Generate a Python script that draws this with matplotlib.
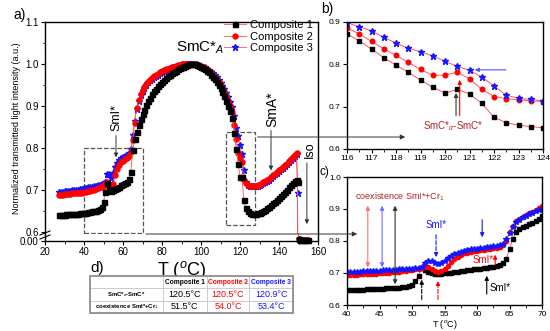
import matplotlib
matplotlib.use("Agg")
import numpy as np
import matplotlib.pyplot as plt
from matplotlib.ticker import MultipleLocator
from matplotlib.patches import Rectangle, FancyArrowPatch
from matplotlib.lines import Line2D

plt.rcParams['font.family'] = ['Liberation Sans', 'DejaVu Sans']
plt.rcParams['mathtext.fontset'] = 'custom'
plt.rcParams['mathtext.rm'] = 'Liberation Sans'
plt.rcParams['mathtext.it'] = 'Liberation Sans:italic'
plt.rcParams['mathtext.bf'] = 'Liberation Sans:bold'

# ---------------- data: panel a (full heating run) ----------------
t_a = np.arange(27, 150)  # 27 ... 149 degC
c1_a = [0.640, 0.640, 0.641, 0.641, 0.642, 0.644, 0.644, 0.643, 0.643, 0.644,
        0.644, 0.645, 0.645, 0.646, 0.646, 0.647, 0.648, 0.649, 0.650, 0.651,
        0.653, 0.655, 0.660, 0.672, 0.695, 0.716, 0.702, 0.697, 0.699, 0.702,
        0.705, 0.708, 0.711, 0.714, 0.716, 0.719, 0.726, 0.742, 0.795, 0.822,
        0.838, 0.855, 0.868, 0.880, 0.891, 0.902, 0.911, 0.920, 0.928, 0.935,
        0.941, 0.948, 0.953, 0.958, 0.963, 0.967, 0.971, 0.975, 0.978, 0.981,
        0.984, 0.987, 0.990, 0.992, 0.994, 0.996, 0.998, 0.999, 1.000, 1.000,
        0.999, 0.998, 0.996, 0.994, 0.991, 0.988, 0.984, 0.980, 0.975, 0.970,
        0.964, 0.957, 0.950, 0.942, 0.933, 0.924, 0.913, 0.901, 0.888, 0.872,
        0.836, 0.798, 0.763, 0.732, 0.730, 0.675, 0.656, 0.650, 0.646, 0.644,
        0.644, 0.644, 0.645, 0.646, 0.648, 0.650, 0.653, 0.656, 0.660, 0.664,
        0.668, 0.672, 0.676, 0.681, 0.686, 0.691, 0.696, 0.701, 0.706, 0.711,
        0.716, 0.721, 0.725]
c2_a = [0.688, 0.689, 0.689, 0.690, 0.690, 0.691, 0.691, 0.692, 0.692, 0.693,
        0.693, 0.694, 0.694, 0.695, 0.696, 0.697, 0.698, 0.699, 0.700, 0.702,
        0.704, 0.706, 0.708, 0.710, 0.714, 0.719, 0.712, 0.703, 0.715, 0.735,
        0.750, 0.760, 0.766, 0.770, 0.773, 0.776, 0.780, 0.790, 0.820, 0.860,
        0.895, 0.915, 0.928, 0.938, 0.946, 0.953, 0.958, 0.963, 0.967, 0.971,
        0.974, 0.977, 0.980, 0.983, 0.985, 0.987, 0.989, 0.991, 0.993, 0.994,
        0.996, 0.997, 0.998, 0.999, 0.999, 1.000, 1.000, 1.000, 1.000, 1.000,
        0.999, 0.998, 0.997, 0.995, 0.993, 0.990, 0.987, 0.983, 0.979, 0.974,
        0.969, 0.963, 0.957, 0.950, 0.942, 0.934, 0.924, 0.913, 0.900, 0.886,
        0.854, 0.821, 0.788, 0.775, 0.766, 0.724, 0.716, 0.712, 0.710, 0.709,
        0.709, 0.710, 0.711, 0.713, 0.715, 0.718, 0.721, 0.724, 0.727, 0.731,
        0.735, 0.739, 0.743, 0.747, 0.751, 0.755, 0.759, 0.763, 0.768, 0.773,
        0.778, 0.783, 0.788]
c3_a = [0.695, 0.696, 0.696, 0.697, 0.697, 0.698, 0.698, 0.699, 0.700, 0.700,
        0.701, 0.702, 0.703, 0.704, 0.705, 0.706, 0.707, 0.708, 0.709, 0.710,
        0.711, 0.713, 0.714, 0.716, 0.720, 0.738, 0.737, 0.728, 0.740, 0.755,
        0.765, 0.771, 0.775, 0.778, 0.781, 0.784, 0.787, 0.797, 0.830, 0.865,
        0.893, 0.912, 0.926, 0.936, 0.944, 0.951, 0.956, 0.961, 0.965, 0.969,
        0.972, 0.975, 0.978, 0.981, 0.984, 0.986, 0.988, 0.990, 0.992, 0.993,
        0.995, 0.996, 0.997, 0.998, 0.999, 1.000, 1.000, 1.000, 1.000, 1.000,
        1.000, 0.999, 0.998, 0.996, 0.994, 0.992, 0.989, 0.986, 0.982, 0.978,
        0.973, 0.968, 0.962, 0.955, 0.948, 0.940, 0.931, 0.921, 0.910, 0.898,
        0.876, 0.848, 0.829, 0.806, 0.785, 0.748, 0.720, 0.713, 0.710, 0.709,
        0.709, 0.709, 0.710, 0.712, 0.714, 0.716, 0.719, 0.722, 0.725, 0.729,
        0.733, 0.737, 0.741, 0.745, 0.749, 0.753, 0.757, 0.761, 0.766, 0.771,
        0.776, 0.781, 0.786]
# isotropic tail (beyond the clearing point)
t_iso1 = [149.5, 150, 151, 152, 153, 154, 155]
c1_iso = [0.720, 0.004, 0.003, 0.003, 0.003, 0.003, 0.003]
t_iso2 = [149.5, 150, 151, 152, 153, 154, 155]
c2_iso = [0.719, 0.004, 0.003, 0.003, 0.003, 0.003, 0.003]
t_iso3 = [149.5, 150, 151, 152, 153, 154, 155]
c3_iso = [0.693, 0.005, 0.004, 0.003, 0.003, 0.003, 0.003]

# ---------------- data: panel b (SmC*A - SmC* region) ----------------
t_b = np.arange(116, 124.01, 0.5)
c1_b = [0.872, 0.855, 0.836, 0.816, 0.798, 0.781, 0.763, 0.746, 0.732,
        0.741, 0.730, 0.708, 0.675, 0.662, 0.656, 0.653, 0.650]
c2_b = [0.886, 0.872, 0.854, 0.837, 0.821, 0.805, 0.788, 0.774, 0.775,
        0.781, 0.766, 0.741, 0.724, 0.719, 0.716, 0.714, 0.712]
c3_b = [0.898, 0.889, 0.879, 0.864, 0.850, 0.838, 0.830, 0.820, 0.807,
        0.795, 0.786, 0.770, 0.749, 0.727, 0.720, 0.717, 0.714]

# ---------------- data: panel c (SmI* region) ----------------
t_c = np.arange(40, 70.01, 0.5)
c1_c = [0.646, 0.646, 0.647, 0.647, 0.648, 0.648, 0.649, 0.649, 0.650, 0.650,
        0.651, 0.651, 0.652, 0.652, 0.653, 0.653, 0.654, 0.655, 0.656, 0.658,
        0.662, 0.675, 0.692, 0.716, 0.710, 0.703, 0.699, 0.697, 0.697, 0.698,
        0.699, 0.700, 0.701, 0.702, 0.704, 0.705, 0.707, 0.708, 0.710, 0.711,
        0.713, 0.714, 0.716, 0.717, 0.718, 0.720, 0.722, 0.725, 0.732, 0.745,
        0.775, 0.805, 0.828, 0.838, 0.844, 0.848, 0.852, 0.857, 0.863, 0.870,
        0.878]
c2_c = [0.694, 0.694, 0.695, 0.695, 0.696, 0.696, 0.697, 0.697, 0.698, 0.698,
        0.699, 0.700, 0.700, 0.701, 0.702, 0.703, 0.704, 0.705, 0.707, 0.708,
        0.710, 0.712, 0.714, 0.717, 0.720, 0.718, 0.712, 0.706, 0.703, 0.706,
        0.713, 0.723, 0.734, 0.744, 0.751, 0.757, 0.761, 0.764, 0.766, 0.768,
        0.770, 0.771, 0.772, 0.774, 0.775, 0.777, 0.779, 0.781, 0.786, 0.800,
        0.828, 0.848, 0.861, 0.870, 0.876, 0.881, 0.886, 0.891, 0.897, 0.903,
        0.909]
c3_c = [0.703, 0.703, 0.704, 0.704, 0.704, 0.705, 0.705, 0.706, 0.706, 0.707,
        0.707, 0.708, 0.708, 0.709, 0.709, 0.710, 0.711, 0.711, 0.712, 0.713,
        0.714, 0.715, 0.716, 0.720, 0.732, 0.738, 0.737, 0.731, 0.728, 0.731,
        0.738, 0.746, 0.753, 0.759, 0.764, 0.767, 0.770, 0.772, 0.774, 0.775,
        0.776, 0.777, 0.779, 0.780, 0.781, 0.783, 0.785, 0.787, 0.792, 0.805,
        0.825, 0.845, 0.858, 0.867, 0.874, 0.879, 0.884, 0.889, 0.893, 0.897,
        0.901]

# ---------------- data: table d ----------------
comp_names = ["Composite 1", "Composite 2", "Composite 3"]
row_labels = ["SmC*$_{\\alpha}$-SmC*", "coexistence SmI*+Cr$_{1}$"]
t_smca = ["120.5°C", "120.5°C", "120.9°C"]
t_coex = ["51.5°C", "54.0°C", "53.4°C"]

LINE = '#FF5555'
DKRED = '#B22222'
BLUE = '#1515FF'
styles = {
    1: dict(marker='s', color=LINE, mfc='black', mec='black'),
    2: dict(marker='o', color=LINE, mfc='red', mec='red'),
    3: dict(marker='*', color=LINE, mfc=BLUE, mec=BLUE),
}

W, H = 550, 331
def fx(px):
    return px / W
def fy(py):
    return 1 - py / H

fig = plt.figure(figsize=(5.5, 3.31), dpi=100)

def style_ax(ax, fs):
    for s in ax.spines.values():
        s.set_linewidth(1.0)
    ax.tick_params(direction='out', length=3, width=0.8, labelsize=fs, pad=1.5)
    ax.tick_params(which='minor', direction='out', length=1.8, width=0.6)

# ---------- panel a ----------
ax_a = fig.add_axes([fx(45), fy(234), (318 - 45) / W, (234 - 22) / H])
ax_a0 = fig.add_axes([fx(45), fy(241), (318 - 45) / W, (241 - 234) / H], sharex=ax_a)

series_a = [(3, t_a, c3_a, t_iso3, c3_iso), (2, t_a, c2_a, t_iso2, c2_iso),
            (1, t_a, c1_a, t_iso1, c1_iso)]
handles = {}
for k, tt, vv, ti, vi in series_a:
    x = list(tt) + list(ti)
    y = list(vv) + list(vi)
    ms = 3.6 if k != 3 else 4.5
    ln, = ax_a.plot(x, y, lw=0.6, ms=ms, label=comp_names[k - 1], **styles[k])
    handles[k] = ln
    # lower (broken) part of the axis: line clipped, tail markers unclipped
    ax_a0.plot(x, y, lw=0.6, ms=0, **{kk: v for kk, v in styles[k].items() if kk != 'marker'})
    ax_a0.plot(ti[1:], vi[1:], ls='none', ms=ms, clip_on=False, **styles[k])

ax_a.set_xlim(20, 160)
ax_a.set_ylim(0.6 - 2 / 420, 1.1)
ax_a0.set_ylim(-0.001, 0.02)
ax_a.spines['bottom'].set_visible(False)
ax_a0.spines['top'].set_visible(False)
style_ax(ax_a, 7)
style_ax(ax_a0, 7)
ax_a.tick_params(axis='x', which='both', bottom=False, labelbottom=False)
ax_a.yaxis.set_major_locator(MultipleLocator(0.1))
ax_a.yaxis.set_minor_locator(MultipleLocator(0.05))
ax_a.set_yticks([0.6, 0.7, 0.8, 0.9, 1.0, 1.1])
ax_a0.set_yticks([0.0])
ax_a0.set_yticklabels(['0.00'])
ax_a0.xaxis.set_major_locator(MultipleLocator(20))
ax_a0.xaxis.set_minor_locator(MultipleLocator(10))
ax_a.set_ylabel('Normalized transmitted light intensity (a.u.)', fontsize=6.5, labelpad=3)
ax_a0.set_xlabel('T ($^{o}$C)', fontsize=13, labelpad=1)

# axis break marks
for dy in (0, 4):
    fig.add_artist(Line2D([fx(40), fx(50)], [fy(235 + dy), fy(231 + dy)],
                          color='black', lw=0.8))

leg = ax_a.legend(handles=[handles[1], handles[2], handles[3]], loc='upper left',
                  bbox_to_anchor=(fx(224), fy(20)), bbox_transform=fig.transFigure,
                  frameon=False, fontsize=8, handlelength=2.0, handletextpad=0.35,
                  labelspacing=0.15, borderaxespad=0, borderpad=0)

# dashed zoom boxes
ax_a.add_patch(Rectangle((40, 0.597), 30.3, 0.8 - 0.597, fill=False, ls='--',
                         lw=0.9, ec='#555555', clip_on=False))
ax_a.add_patch(Rectangle((112.8, 0.617), 14.9, 0.838 - 0.617, fill=False, ls='--',
                         lw=0.9, ec='#555555', clip_on=False))

ax_a.text(99.5, 1.038, 'SmC*$_{A}$', fontsize=11, ha='center', va='center')
ax_a.text(56.4, 0.873, 'SmI*', fontsize=9, rotation=90, ha='center', va='center')
ax_a.annotate('', xy=(56.4, 0.771), xytext=(56.4, 0.836),
              arrowprops=dict(arrowstyle='-|>', lw=0.7, color='#333333', mutation_scale=6))
ax_a.text(136.4, 0.893, 'SmA*', fontsize=10, rotation=90, ha='center', va='center')
ax_a.annotate('', xy=(135.9, 0.74), xytext=(135.9, 0.848),
              arrowprops=dict(arrowstyle='-|>', lw=0.7, color='#333333', mutation_scale=6))
ax_a.text(155.9, 0.795, 'Iso', fontsize=9, rotation=90, ha='center', va='center')
ax_a.annotate('', xy=(154.3, 0.612), xytext=(154.3, 0.771),
              arrowprops=dict(arrowstyle='-|>', lw=0.7, color='#333333', mutation_scale=6))

# connector arrows between panels
for (x0, y0, x1, y1) in [(255, 137, 408, 137), (143, 234, 360, 234)]:
    fig.add_artist(FancyArrowPatch(
        (fx(x0), fy(y0)), (fx(x1), fy(y1)), transform=fig.transFigure,
        arrowstyle='-|>', mutation_scale=7, lw=0.7, color='#333333'))

# ---------- panel b ----------
ax_b = fig.add_axes([fx(347), fy(149), (543 - 347) / W, (149 - 22) / H])
for k, vv in [(1, c1_b), (2, c2_b), (3, c3_b)]:
    ax_b.plot(t_b, vv, lw=0.7, ms=3.3 if k != 3 else 4.5, **styles[k])
ax_b.set_xlim(116, 124)
ax_b.set_ylim(0.6, 0.9)
style_ax(ax_b, 6)
ax_b.xaxis.set_major_locator(MultipleLocator(1))
ax_b.xaxis.set_minor_locator(MultipleLocator(0.5))
ax_b.yaxis.set_major_locator(MultipleLocator(0.1))
ax_b.annotate('', xy=(120.45, 0.739), xytext=(120.45, 0.672),
              arrowprops=dict(arrowstyle='-|>', lw=0.8, color='#333333', mutation_scale=6))
ax_b.annotate('', xy=(120.6, 0.770), xytext=(120.6, 0.672),
              arrowprops=dict(arrowstyle='-|>', lw=0.8, color='red', mutation_scale=6))
ax_b.annotate('', xy=(121.1, 0.787), xytext=(122.6, 0.787),
              arrowprops=dict(arrowstyle='-|>', lw=0.8, color='#5050FF', mutation_scale=6))
ax_b.text(120.33, 0.654, 'SmC*$_{\\alpha}$-SmC*', fontsize=7, color=DKRED,
          ha='center', va='center')

# ---------- panel c ----------
ax_c = fig.add_axes([fx(347), fy(305), (542 - 347) / W, (305 - 177) / H])
for k, vv in [(1, c1_c), (2, c2_c), (3, c3_c)]:
    ax_c.plot(t_c, vv, lw=0.6, ms=3.0 if k != 3 else 4.0, **styles[k])
ax_c.set_xlim(40, 70)
ax_c.set_ylim(0.6, 1.0)
style_ax(ax_c, 6)
ax_c.xaxis.set_major_locator(MultipleLocator(5))
ax_c.xaxis.set_minor_locator(MultipleLocator(2.5))
ax_c.yaxis.set_major_locator(MultipleLocator(0.1))
ax_c.set_xlabel('T ($^{o}$C)', fontsize=6.5, labelpad=0)

ax_c.text(41.2, 0.9375, 'coexistence SmI*+Cr$_{1}$', fontsize=6.5, color=DKRED,
          ha='left', va='center')
for xc, col, ylo in [(43.2, '#FF7070', 0.709), (45.4, '#7070FF', 0.709), (47.4, '#333333', 0.656)]:
    ax_c.annotate('', xy=(xc, ylo), xytext=(xc, 0.919),
                  arrowprops=dict(arrowstyle='<|-|>', lw=0.8, color=col, mutation_scale=6))
ax_c.text(53.7, 0.85, 'SmI*', fontsize=7, color=BLUE, ha='center', va='center')
ax_c.annotate('', xy=(53.7, 0.741), xytext=(53.7, 0.828),
              arrowprops=dict(arrowstyle='-|>', lw=0.8, ls='--', color=BLUE, mutation_scale=6))
ax_c.annotate('', xy=(51.5, 0.688), xytext=(51.5, 0.609),
              arrowprops=dict(arrowstyle='-|>', lw=0.8, ls='--', color='black', mutation_scale=6))
ax_c.annotate('', xy=(54.0, 0.684), xytext=(54.0, 0.609),
              arrowprops=dict(arrowstyle='-|>', lw=0.8, ls='--', color='red', mutation_scale=6))
ax_c.annotate('', xy=(60.8, 0.803), xytext=(60.8, 0.875),
              arrowprops=dict(arrowstyle='-|>', lw=0.8, color=BLUE, mutation_scale=6))
ax_c.text(60.9, 0.741, 'SmI*', fontsize=7, color='red', ha='center', va='center')
ax_c.annotate('', xy=(62.8, 0.766), xytext=(62.8, 0.716),
              arrowprops=dict(arrowstyle='-|>', lw=0.8, color='red', mutation_scale=6))
ax_c.text(63.5, 0.653, 'SmI*', fontsize=7, color='black', ha='center', va='center')
ax_c.annotate('', xy=(61.5, 0.70), xytext=(61.5, 0.625),
              arrowprops=dict(arrowstyle='-|>', lw=0.8, color='black', mutation_scale=6))

# ---------- table d ----------
ax_d = fig.add_axes([fx(90), fy(313), (293 - 90) / W, (313 - 276) / H])
ax_d.axis('off')
cells = [[""] + comp_names, [row_labels[0]] + t_smca, [row_labels[1]] + t_coex]
tbl = ax_d.table(cellText=cells, bbox=[0, 0, 1, 1], cellLoc='center',
                 colWidths=[0.36, 0.215, 0.21, 0.215])
tbl.auto_set_font_size(False)
col_colors = ['black', 'black', 'red', BLUE]
for (r, c), cell in tbl.get_celld().items():
    cell.set_edgecolor('#C8C8C8')
    cell.set_linewidth(0.6)
    txt = cell.get_text()
    txt.set_color(col_colors[c])
    if r == 0 or c == 0:
        txt.set_fontweight('bold')
        txt.set_fontsize(4.8 if r == 0 else 4.3)
    else:
        txt.set_fontsize(6.5)
ax_d.add_patch(Rectangle((0, 0), 1, 1, transform=ax_d.transAxes, fill=False,
                         ec='#888888', lw=1.2, clip_on=False))

# panel letters
fig.text(fx(20), fy(15), 'a)', fontsize=10, ha='center', va='center')
fig.text(fx(327), fy(9), 'b)', fontsize=10, ha='center', va='center')
fig.text(fx(324), fy(172), 'c)', fontsize=8.5, ha='center', va='center', zorder=10)
fig.text(fx(97), fy(268), 'd)', fontsize=11, ha='center', va='center')

fig.savefig('out.png', dpi=100)
